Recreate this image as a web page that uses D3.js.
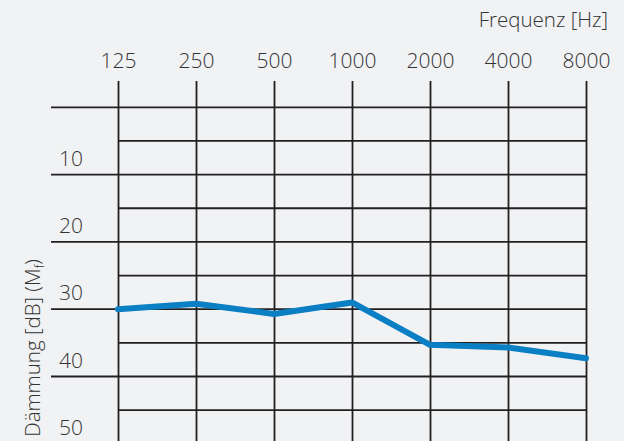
<!DOCTYPE html>
<html>
<head>
<meta charset="utf-8">
<script src="https://cdn.jsdelivr.net/npm/d3@7"></script>
<style>
  html, body { margin: 0; padding: 0; background: #f1f2f4; }
  svg { display: block; }
  text { font-family: "Open Sans", "Noto Sans", sans-serif; font-weight: 300; fill: #333; }
</style>
</head>
<body>
<svg id="chart" width="624" height="441"></svg>
<script>
// frequencies (Hz) and damping values (dB)
const frequencies = ["125", "250", "500", "1000", "2000", "4000", "8000"];
const damping = [30.0, 29.2, 30.7, 29.0, 35.3, 35.7, 37.3];
const majorTicks = [0, 10, 20, 30, 40, 50];
const minorTicks = [5, 15, 25, 35, 45];
const majorLabels = ["", "10", "20", "30", "40", "50"];

const svg = d3.select("#chart");

const x = d3.scalePoint()
    .domain(frequencies)
    .range([118, 586]);

const y = d3.scaleLinear()
    .domain([0, 50])
    .range([107.3, 443.8]);

const gridColor = "#231f20";

// horizontal grid: long lines at 10s, short ones at the 5s
svg.append("g")
    .selectAll("line")
    .data(majorTicks)
    .join("line")
    .attr("x1", 51)
    .attr("x2", x("8000"))
    .attr("y1", d => y(d))
    .attr("y2", d => y(d))
    .attr("stroke", gridColor)
    .attr("stroke-width", 1.8);

svg.append("g")
    .selectAll("line")
    .data(minorTicks)
    .join("line")
    .attr("x1", x("125"))
    .attr("x2", x("8000"))
    .attr("y1", d => y(d))
    .attr("y2", d => y(d))
    .attr("stroke", gridColor)
    .attr("stroke-width", 1.8);

// x axis on top, ticks run down as vertical grid
const xAxis = svg.append("g")
    .attr("transform", "translate(0,81)")
    .call(d3.axisTop(x).tickSize(-380).tickPadding(13));

xAxis.select(".domain").remove();
xAxis.selectAll(".tick line")
    .attr("stroke", gridColor)
    .attr("stroke-width", 1.8);
xAxis.selectAll(".tick text")
    .attr("font-size", 21)
    .attr("font-family", null)
    .attr("fill", "#333");

// y labels
svg.append("g")
    .selectAll("text")
    .data(majorTicks)
    .join("text")
    .attr("x", 83)
    .attr("y", d => y(d) - 9)
    .attr("text-anchor", "end")
    .attr("font-size", 21)
    .text((d, i) => majorLabels[i]);

// axis titles
svg.append("text")
    .attr("x", 608)
    .attr("y", 27)
    .attr("text-anchor", "end")
    .attr("font-size", 20.5)
    .text("Frequenz [Hz]");

const yTitle = svg.append("text")
    .attr("transform", "translate(40,348) rotate(-90)")
    .attr("text-anchor", "middle")
    .attr("font-size", 20.5);
yTitle.append("tspan").text("Dämmung [dB] (M");
yTitle.append("tspan").attr("font-size", 12).attr("dy", 4).text("f");
yTitle.append("tspan").attr("dy", -4).text(")");

// damping curve
const line = d3.line()
    .x((d, i) => x(frequencies[i]))
    .y(d => y(d));

svg.append("path")
    .datum(damping)
    .attr("d", line)
    .attr("fill", "none")
    .attr("stroke", "#0a7fc4")
    .attr("stroke-width", 6)
    .attr("stroke-linejoin", "round")
    .attr("stroke-linecap", "round");
</script>
</body>
</html>
